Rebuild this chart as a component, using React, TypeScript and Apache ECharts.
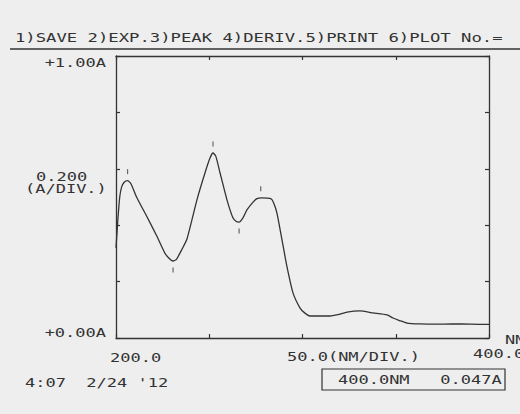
import React, { useEffect, useRef } from "react";
import * as echarts from "echarts";

// Spectrum (wavelength nm, absorbance A)
const wavelengths = [
  200, 200.6, 201, 202, 203, 204.5, 206.2, 208, 211, 216.6, 222, 226.3, 229, 230.6, 232.5, 235, 238,
  243.4, 247.7, 250.4, 252, 253.5, 255.8, 259.5, 262.7, 264.5, 266, 268, 270.2, 273.5, 275.6, 278,
  283, 284.5, 286.3, 289, 291.7, 294.9, 298.7, 301, 304, 314.7, 319, 323.9, 330.8, 337.8, 345.3,
  348.5, 352, 356, 363, 372, 380, 390, 400,
];
const absorbance = [
  0.32, 0.38, 0.42, 0.5, 0.535, 0.553, 0.558, 0.547, 0.5, 0.43, 0.36, 0.3, 0.279, 0.273, 0.28, 0.31,
  0.35, 0.49, 0.585, 0.638, 0.656, 0.645, 0.585, 0.49, 0.426, 0.413, 0.411, 0.425, 0.454, 0.482,
  0.494, 0.497, 0.494, 0.48, 0.443, 0.348, 0.252, 0.16, 0.106, 0.09, 0.078, 0.078, 0.083, 0.092,
  0.096, 0.089, 0.082, 0.071, 0.062, 0.053, 0.05, 0.049, 0.05, 0.049, 0.048,
];

// Peak and valley markers
const peakNm = [206.2, 252, 277.6];
const peakA = [0.558, 0.656, 0.497];
const valleyNm = [230.6, 266];
const valleyA = [0.273, 0.411];

// Printed texts
const headerText = "1)SAVE 2)EXP.3)PEAK 4)DERIV.5)PRINT 6)PLOT No.=";
const yTopLabel = "+1.00A";
const yBottomLabel = "+0.00A";
const yScaleLabel = ["0.200", "(A/DIV.)"];
const xStartLabel = "200.0";
const xScaleLabel = "50.0(NM/DIV.)";
const xEndLabel = "400.0";
const xUnitLabel = "NM";
const dateLabel = "4:07  2/24 '12";
const readoutLabel = "400.0NM   0.047A";

const INK = "#333333";
const FONT = '12.5px "DejaVu Sans Mono"';
const SX = 1.36;

function txt(text: string, x: number, y: number, align: string = "left", sx: number = SX) {
  return {
    type: "text",
    x,
    y,
    scaleX: sx,
    silent: true,
    style: { text, font: FONT, fill: INK, align, verticalAlign: "middle" },
  };
}

export default function App() {
  const ref = useRef<HTMLDivElement>(null);
  useEffect(() => {
    if (!ref.current) return;
    const chart = echarts.init(ref.current, null, { renderer: "svg" });
    const axisCommon = {
      axisLine: { show: true, onZero: false, lineStyle: { color: INK, width: 1.3 } },
      axisTick: { show: true, inside: true, length: 4, lineStyle: { color: INK, width: 1.2 } },
      axisLabel: { show: false },
      splitLine: { show: false },
    };
    const line = wavelengths.map((w, i) => [w, absorbance[i]]);
    chart.setOption({
      animation: false,
      backgroundColor: "#eeeeee",
      grid: { left: 116, top: 56, right: 31, bottom: 76 },
      xAxis: [
        { type: "value", min: 200, max: 400, interval: 50, position: "bottom", ...axisCommon },
        { type: "value", min: 200, max: 400, interval: 50, position: "top", ...axisCommon },
      ],
      yAxis: [
        { type: "value", min: 0, max: 1, interval: 0.2, position: "left", ...axisCommon },
        { type: "value", min: 0, max: 1, interval: 0.2, position: "right", ...axisCommon },
      ],
      series: [
        {
          type: "line",
          data: line,
          showSymbol: false,
          smooth: 0.2,
          lineStyle: { color: "#333", width: 1.3 },
          silent: true,
        },
        {
          type: "scatter",
          data: peakNm.map((w, i) => [w, peakA[i]]),
          symbol: "rect",
          symbolSize: [1.2, 5],
          symbolOffset: [0, -9],
          itemStyle: { color: "#444" },
          silent: true,
        },
        {
          type: "scatter",
          data: valleyNm.map((w, i) => [w, valleyA[i]]),
          symbol: "rect",
          symbolSize: [1.2, 5],
          symbolOffset: [0, 9],
          itemStyle: { color: "#444" },
          silent: true,
        },
      ],
      graphic: [
        txt(headerText, 15, 38, "left", 1.38),
        { type: "line", shape: { x1: 10, y1: 49, x2: 520, y2: 49 }, style: { stroke: INK, lineWidth: 1.4 }, silent: true },
        txt(yTopLabel, 106, 63, "right"),
        txt(yScaleLabel[0], 36, 177),
        txt(yScaleLabel[1], 25, 189),
        txt(yBottomLabel, 106, 333, "right"),
        txt(xStartLabel, 110, 358),
        txt(xScaleLabel, 287, 357),
        txt(xEndLabel, 473, 354),
        txt(xUnitLabel, 505, 340),
        txt(dateLabel, 25, 383),
        { type: "rect", shape: { x: 322, y: 369, width: 183, height: 21 }, style: { fill: "none", stroke: INK, lineWidth: 1.2 }, silent: true },
        txt(readoutLabel, 338, 380),
      ],
    });
    return () => chart.dispose();
  }, []);
  return <div ref={ref} style={{ position: "fixed", left: 0, top: 0, width: 520, height: 414 }} />;
}
